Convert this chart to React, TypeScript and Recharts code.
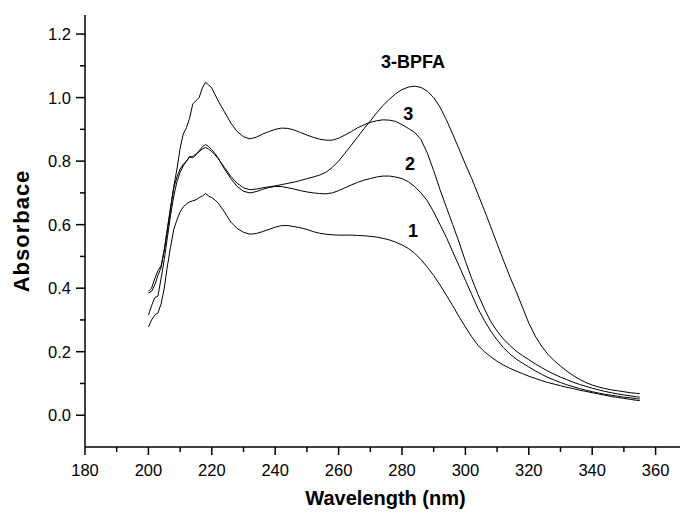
import React from 'react';
import { LineChart, Line, XAxis, YAxis, ReferenceDot } from 'recharts';

const FONT = '"Liberation Sans", Arial, Helvetica, sans-serif';

const WAVELENGTHS = [
  200, 201, 202, 203, 204, 205, 206, 207, 208, 209,
  210, 211, 212, 213, 214, 215, 216, 217, 218, 219,
  220, 221, 222,
  224, 226, 228, 230, 232, 234, 236, 238, 240, 242,
  244, 246, 248, 250, 252, 254, 256, 258, 260, 262,
  264, 266, 268, 270, 272, 274, 276, 278, 280, 282,
  284, 286, 288, 290, 292, 294, 296, 298, 300, 302,
  304, 306, 308, 310, 312, 314, 316, 318, 320, 322,
  324, 326, 328, 330, 332, 334, 336, 338, 340, 342,
  344, 346, 348, 350, 352, 354,
  355,
];

const CURVE_BPFA = [
  0.385, 0.39, 0.41, 0.44, 0.465, 0.52, 0.59, 0.655, 0.715, 0.75,
  0.775, 0.79, 0.80, 0.812, 0.815, 0.822, 0.83, 0.838, 0.843, 0.838,
  0.83, 0.82, 0.808,
  0.78, 0.752, 0.73, 0.716, 0.71, 0.712, 0.716, 0.719, 0.722, 0.726,
  0.73, 0.734, 0.739, 0.745, 0.75, 0.756, 0.765, 0.78, 0.80, 0.825,
  0.85, 0.876, 0.902, 0.926, 0.952, 0.975, 0.995, 1.012, 1.025, 1.033,
  1.036, 1.032, 1.02, 1.0, 0.97, 0.93, 0.885, 0.838, 0.79, 0.745,
  0.695, 0.645, 0.593, 0.54, 0.488, 0.437, 0.39, 0.34, 0.29, 0.25,
  0.218, 0.192, 0.172, 0.155, 0.139, 0.125, 0.113, 0.103, 0.095, 0.089,
  0.084, 0.08, 0.077, 0.074, 0.071, 0.069,
  0.068,
];

const CURVE_3 = [
  0.39, 0.40, 0.43, 0.455, 0.47, 0.52, 0.58, 0.65, 0.72, 0.775,
  0.84, 0.885, 0.905, 0.935, 0.98, 0.99, 1.00, 1.03, 1.048, 1.04,
  1.03, 1.01, 0.99,
  0.955, 0.92, 0.893, 0.877, 0.87, 0.875, 0.885, 0.893, 0.90, 0.904,
  0.903, 0.898, 0.89, 0.882, 0.875, 0.869, 0.866, 0.866, 0.872, 0.882,
  0.893, 0.905, 0.914, 0.922, 0.927, 0.93, 0.929, 0.925, 0.915, 0.903,
  0.89, 0.868, 0.825, 0.77, 0.71, 0.655, 0.6, 0.545, 0.485, 0.43,
  0.38, 0.335, 0.295, 0.265, 0.24, 0.22, 0.202, 0.188, 0.175, 0.162,
  0.15, 0.139, 0.129, 0.12, 0.112, 0.104, 0.097, 0.091, 0.085, 0.08,
  0.075, 0.071, 0.067, 0.064, 0.061, 0.058,
  0.057,
];

const CURVE_2 = [
  0.315, 0.345, 0.37, 0.375, 0.43, 0.49, 0.56, 0.63, 0.69, 0.735,
  0.765, 0.785, 0.80, 0.815, 0.81, 0.82, 0.832, 0.845, 0.852, 0.846,
  0.836, 0.824, 0.81,
  0.775, 0.745, 0.72, 0.705, 0.70, 0.704, 0.711, 0.717, 0.72, 0.72,
  0.716, 0.712, 0.707, 0.703, 0.70, 0.698, 0.697, 0.70, 0.707, 0.716,
  0.725, 0.733, 0.74, 0.745, 0.75, 0.753, 0.753, 0.75, 0.745, 0.735,
  0.72, 0.70, 0.675, 0.64, 0.60, 0.56, 0.515, 0.47, 0.425, 0.38,
  0.335, 0.298, 0.265, 0.237, 0.213, 0.193, 0.177, 0.164, 0.152, 0.14,
  0.129, 0.119, 0.111, 0.103, 0.096, 0.09, 0.084, 0.079, 0.074, 0.07,
  0.066, 0.063, 0.06, 0.057, 0.055, 0.052,
  0.051,
];

const CURVE_1 = [
  0.278, 0.30, 0.315, 0.322, 0.35, 0.40, 0.47, 0.53, 0.585, 0.615,
  0.64, 0.656, 0.665, 0.672, 0.675, 0.678, 0.685, 0.69, 0.698, 0.69,
  0.685, 0.678, 0.668,
  0.64, 0.608, 0.588, 0.576, 0.57, 0.572, 0.578, 0.585, 0.592, 0.597,
  0.597, 0.594, 0.59, 0.585, 0.578, 0.573, 0.57, 0.568, 0.567, 0.567,
  0.567, 0.566, 0.565, 0.563, 0.561, 0.557, 0.552, 0.545, 0.536, 0.525,
  0.51, 0.49, 0.466, 0.44, 0.41, 0.378, 0.345, 0.31, 0.278, 0.247,
  0.22, 0.2, 0.184, 0.17, 0.158, 0.148, 0.139, 0.131, 0.123, 0.116,
  0.109, 0.103, 0.098, 0.093, 0.088, 0.084, 0.079, 0.075, 0.071, 0.067,
  0.063, 0.059, 0.056, 0.053, 0.05, 0.047,
  0.046,
];

const X_TICKS = [180, 190, 200, 210, 220, 230, 240, 250, 260, 270, 280, 290, 300, 310, 320, 330, 340, 350, 360];
const Y_TICKS = [0, 0.1, 0.2, 0.3, 0.4, 0.5, 0.6, 0.7, 0.8, 0.9, 1.0, 1.1, 1.2];

const ANNOTATIONS = [
  { text: '3-BPFA', w: 283.5, v: 1.114 },
  { text: '3', w: 282, v: 0.951 },
  { text: '2', w: 282.5, v: 0.793 },
  { text: '1', w: 283.5, v: 0.583 },
];

const data = WAVELENGTHS.map((w, i) => ({
  w,
  bpfa: CURVE_BPFA[i],
  c3: CURVE_3[i],
  c2: CURVE_2[i],
  c1: CURVE_1[i],
}));

const XTick = (props: any) => {
  const { x, y, payload } = props;
  const v = payload.value;
  const major = v % 20 === 0;
  return (
    <g>
      <line x1={x} x2={x} y1={y} y2={y + (major ? 8 : 5)} stroke="#000" strokeWidth={1.5} />
      {major && (
        <text x={x} y={y + 29} textAnchor="middle" fontSize={16.5} fontFamily={FONT} fill="#000">
          {v}
        </text>
      )}
    </g>
  );
};

const YTick = (props: any) => {
  const { x, y, payload } = props;
  const v = payload.value;
  const major = Math.round(v * 10) % 2 === 0;
  return (
    <g>
      <line x1={x - (major ? 9 : 5)} x2={x} y1={y} y2={y} stroke="#000" strokeWidth={1.5} />
      {major && (
        <text x={x - 14} y={y + 6} textAnchor="end" fontSize={16.5} fontFamily={FONT} fill="#000">
          {v.toFixed(1)}
        </text>
      )}
    </g>
  );
};

const XTitle = (props: any) => {
  const { viewBox } = props;
  const cx = viewBox.x + viewBox.width / 2;
  return (
    <text x={cx + 3} y={viewBox.y + 58} textAnchor="middle" fontSize={20} fontWeight="bold" fontFamily={FONT} fill="#000">
      Wavelength (nm)
    </text>
  );
};

const YTitle = (props: any) => {
  const { viewBox } = props;
  const cy = viewBox.y + viewBox.height / 2;
  const cx = 21;
  return (
    <text
      x={cx}
      y={cy}
      dy="0.36em"
      transform={`rotate(-90, ${cx}, ${cy})`}
      textAnchor="middle"
      fontSize={22}
      letterSpacing={1}
      fontWeight="bold"
      fontFamily={FONT}
      fill="#000"
    >
      Absorbace
    </text>
  );
};

const makeAnn = (text: string) => (props: any) => {
  const { viewBox } = props;
  const cx = viewBox.x + (viewBox.width || 0) / 2;
  const cy = viewBox.y + (viewBox.height || 0) / 2;
  return (
    <text x={cx} y={cy} dy="0.36em" textAnchor="middle" fontSize={18} fontWeight="bold" fontFamily={FONT} fill="#000">
      {text}
    </text>
  );
};

export default function App() {
  return (
    <div style={{ position: 'absolute', left: 0, top: 0, width: 680, height: 513, background: '#fff' }}>
      <LineChart width={680} height={513} data={data} margin={{ top: 15, right: 0, bottom: 0, left: 0 }}>
        <XAxis
          dataKey="w"
          type="number"
          domain={[180, 367.7]}
          ticks={X_TICKS}
          interval={0}
          height={66}
          tickSize={0}
          tickMargin={0}
          tickLine={false}
          axisLine={{ stroke: '#000', strokeWidth: 1.5 }}
          tick={XTick}
          allowDataOverflow
          label={{ content: XTitle }}
        />
        <YAxis
          type="number"
          domain={[-0.1, 1.26]}
          ticks={Y_TICKS}
          interval={0}
          width={85}
          tickSize={0}
          tickMargin={0}
          tickLine={false}
          axisLine={{ stroke: '#000', strokeWidth: 1.5 }}
          tick={YTick}
          allowDataOverflow
          label={{ content: YTitle }}
        />
        <Line dataKey="bpfa" type="linear" stroke="#000" strokeWidth={1} dot={false} isAnimationActive={false} />
        <Line dataKey="c3" type="linear" stroke="#000" strokeWidth={1} dot={false} isAnimationActive={false} />
        <Line dataKey="c2" type="linear" stroke="#000" strokeWidth={1} dot={false} isAnimationActive={false} />
        <Line dataKey="c1" type="linear" stroke="#000" strokeWidth={1} dot={false} isAnimationActive={false} />
        {ANNOTATIONS.map((a) => (
          <ReferenceDot
            key={a.text}
            x={a.w}
            y={a.v}
            r={0}
            fill="none"
            stroke="none"
            label={{ content: makeAnn(a.text) }}
          />
        ))}
      </LineChart>
    </div>
  );
}
